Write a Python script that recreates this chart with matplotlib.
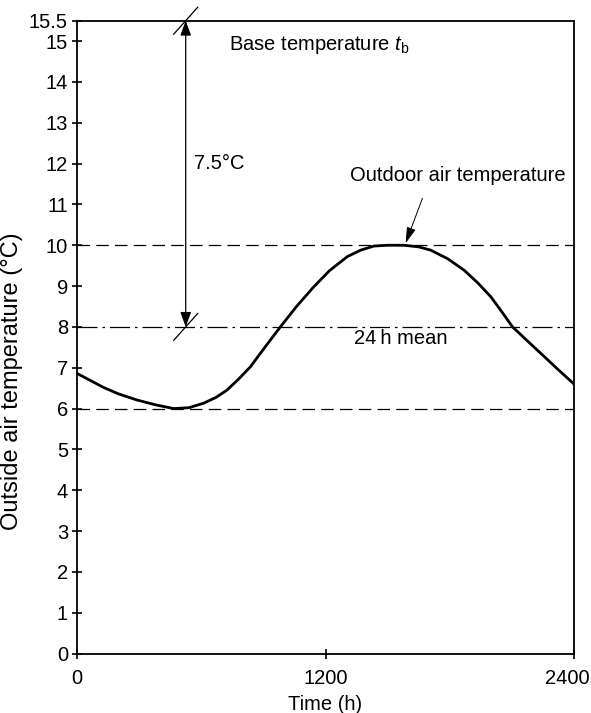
import matplotlib
matplotlib.use("Agg")
import matplotlib.pyplot as plt
from matplotlib.transforms import ScaledTranslation

plt.rcParams['font.family'] = ['Liberation Sans', 'DejaVu Sans']
plt.rcParams['mathtext.fontset'] = 'custom'
plt.rcParams['mathtext.rm'] = 'Liberation Sans'
plt.rcParams['mathtext.it'] = 'Liberation Sans:italic'

# Data (time in h, outdoor temperature in degC)
time_h = [0, 60, 127, 200, 289, 380, 466, 540, 611, 670, 724, 780, 837, 885,
          934, 982, 1060, 1143, 1220, 1305, 1370, 1434, 1500, 1579, 1650, 1708,
          1790, 1869, 1935, 1998, 2050, 2103, 2170, 2240, 2320, 2400]
temp_c = [6.86, 6.70, 6.52, 6.36, 6.21, 6.09, 6.00, 6.02, 6.13, 6.27, 6.45,
          6.72, 7.02, 7.35, 7.68, 8.00, 8.50, 8.98, 9.38, 9.72, 9.88, 9.98,
          10.0, 10.0, 9.96, 9.88, 9.67, 9.39, 9.08, 8.74, 8.38, 8.00, 7.68,
          7.35, 6.97, 6.60]

t_max = 10.0
t_mean = 8.0
t_min = 6.0
t_base = 15.5
arrow_time = 525
peak_time = 1587

x_ticks = [0, 1200, 2400]
y_ticks = list(range(0, 16)) + [15.5]
y_tick_labels = [str(v) for v in range(0, 16)] + ['15.5']

fs = 14.5

fig = plt.figure(figsize=(5.91, 7.13), dpi=100)
ax = fig.add_axes([77/591, (713-653.5)/713, (574-77)/591, (653.5-20.7)/713])

ax.set_xlim(0, 2400)
ax.set_ylim(0, 15.5)

# reference lines
ax.plot([0, 2400], [t_max, t_max], color='black', lw=0.9, ls=(0, (10, 5)))
ax.plot([0, 2400], [t_mean, t_mean], color='black', lw=0.9, ls=(0, (16, 4, 2, 4)))
ax.plot([0, 2400], [t_min, t_min], color='black', lw=0.9, ls=(0, (10, 5)))

# outdoor temperature curve
ax.plot(time_h, temp_c, color='black', lw=2.0, solid_capstyle='round',
        solid_joinstyle='round')

# double arrow 7.5 C
ax.annotate('', xy=(arrow_time, t_base), xytext=(arrow_time, t_mean),
            arrowprops=dict(arrowstyle='<|-|>,head_length=0.6,head_width=0.22',
                            color='black', lw=0.9,
                            mutation_scale=15, shrinkA=0, shrinkB=0))
# slash marks
dx, dy = 58, 0.33
for yv in (t_base, t_mean):
    ax.plot([arrow_time - dx, arrow_time + dx], [yv - dy, yv + dy],
            color='black', lw=0.9, clip_on=False)

ax.text(735, 14.9, 'Base temperature $t_{\\mathrm{b}}$', fontsize=fs,
        va='center', ha='left')
ax.text(563, 12.0, '7.5°C', fontsize=fs, va='center', ha='left')
ax.text(1840, 11.72, 'Outdoor air temperature', fontsize=fs, va='center',
        ha='center')
ax.annotate('', xy=(peak_time, 10.05), xytext=(1668, 11.15),
            arrowprops=dict(arrowstyle='-|>,head_length=0.7,head_width=0.2',
                            color='black', lw=0.7,
                            mutation_scale=14, shrinkA=0, shrinkB=0))
ax.text(1340, 7.72, '24\u2009h mean', fontsize=fs, va='center', ha='left')

ax.set_xticks(x_ticks)
ax.set_yticks(y_ticks)
ax.set_yticklabels(y_tick_labels)
ax.tick_params(axis='both', direction='inout', length=7, width=1.2,
               labelsize=fs, color='black')
ax.tick_params(axis='y', pad=3)
ax.tick_params(axis='x', pad=8)

# keep the last x tick label inside the figure, as in the reference
last = ax.get_xticklabels()[-1]
last.set_transform(last.get_transform() + ScaledTranslation(-6.5/100, 0, fig.dpi_scale_trans))

for s in ax.spines.values():
    s.set_linewidth(1.3)

ax.set_xlabel('Time (h)', fontsize=fs, labelpad=5)
ax.set_ylabel('Outside air temperature (°C)', fontsize=17)
ax.yaxis.set_label_coords(-0.108, 0.43)

fig.savefig('out.png', dpi=100)
